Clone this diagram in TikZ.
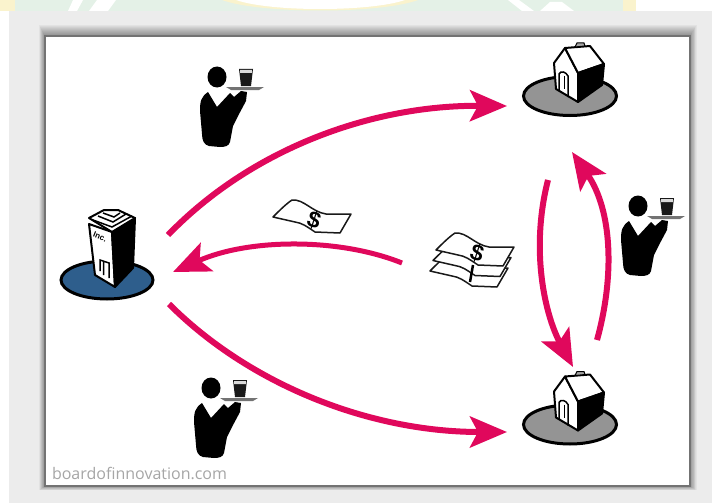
\documentclass[tikz,border=0pt]{standalone}
\usepackage{fontspec}
\newfontfamily\markfont{Open Sans}
\newfontfamily\signfont{Liberation Sans}
\usetikzlibrary{arrows.meta}
\definecolor{flowpink}{RGB}{224,8,92}
\definecolor{panelgray}{RGB}{236,236,236}
\definecolor{bannergreen}{RGB}{228,241,231}
\definecolor{bannergold}{RGB}{250,243,205}
\definecolor{firmblue}{RGB}{46,94,140}
\tikzset{
  hub/.style={inner sep=0pt, outer sep=0pt},
  flow/.style={draw=flowpink, line width=6pt, -{Stealth[length=37pt, width=31pt, inset=8pt]}},
  billshape/.style={draw=black!90, fill=white, line width=1.5pt, line join=round},
  waiter/.pic={
    \fill (0,1) ellipse [x radius=9.5, y radius=10.5];
    \fill (-9,16) -- (0,31) -- (13,17) -- (17,21) -- (24,15) -- (30,16) -- (29,25)
      -- (21,40) -- (16,50) -- (13,66) .. controls (12,70) and (8,71) .. (3,71)
      -- (-8,70) .. controls (-13,69) and (-15,64) .. (-15,58)
      -- (-17,35) .. controls (-17,25) and (-16,21) .. (-9,16) -- cycle;
    \fill[black!55] (9,11) -- (47,11) -- (42,14) -- (14,14) -- cycle;
    \fill[black!90] (22,-7) -- (36,-7) -- (34,10) -- (24,10) -- cycle;
    \fill[black!15] (23,-6) -- (35,-6) -- (34.8,-3) -- (23.2,-3) -- cycle;
  },
  house/.pic={
    \draw[line width=3pt, fill=black!42] (0,0) ellipse [x radius=46.5, y radius=19.5];
    \draw[line width=2pt, fill=white, line join=round] (-16,-33) -- (-5,-48) -- (8,-23) -- (8,6) -- (-14,-7) -- cycle;
    \draw[line width=2pt, fill=white, line join=round] (-5,-48) -- (20,-50) -- (34,-32) -- (8,-23) -- cycle;
    \draw[line width=2pt, fill=black, line join=round] (8,-23) -- (34,-32) -- (32,-11) -- (8,6) -- cycle;
    \draw[line width=1pt, fill=black!35] (5,-49) -- (7,-53) -- (14,-53) -- (15,-50) -- cycle;
    \draw[line width=1.5pt] (-11,-5) -- (-11,-22) .. controls (-9,-26) and (-4,-24) .. (-2,-20) -- (-2,1);
    \draw[line width=1pt] (-6,-20) -- (-6,-7);
  },
  building/.pic={
    \draw[line width=3pt, fill=firmblue] (0,0) ellipse [x radius=46, y radius=19];
    \draw[line width=2pt, fill=white, line join=round] (-18,-56) -- (5,-48) -- (8,7) -- (-12,-5) -- cycle;
    \draw[line width=2pt, fill=black, line join=round] (5,-48) -- (28,-62) -- (26,-12) -- (8,7) -- cycle;
    \draw[line width=2pt, fill=white, line join=round] (-18,-62) -- (-3,-70) -- (11,-70) -- (28,-62) -- (5,-48) -- cycle;
    \draw[line width=1.5pt] (-14,-60) -- (5,-53) -- (25,-64) (-9,-64) -- (6,-58) -- (19,-66) (-4,-67) -- (7,-63) -- (13,-67);
    \draw[line width=1.5pt] (-7,-9) -- (-7,-20) -- (2,-17) -- (2,-2) (-3.5,-18) -- (-3.5,-5);
    \node[hub, rotate=-22, font=\signfont\bfseries\fontsize{8}{9}\selectfont] (sign) at (-7,-43) {Inc.};
  },
  bill/.pic={
    \draw[billshape] (-41,-3) .. controls (-34,-10) and (-28,-16) .. (-22,-20)
      .. controls (-10,-21) and (-2,-8) .. (12,-6) -- (37,-6) -- (26,13) -- (1,12)
      .. controls (-8,6) and (-12,3) .. (-19,2) -- cycle;
  },
  dollar/.style={hub, rotate=-18, font=\signfont\bfseries\fontsize{23}{25}\selectfont},
}
\begin{document}
\begin{tikzpicture}[x=1pt, y=-1pt]
  \useasboundingbox (0,0) rectangle (712,503);

  % Banner
  \fill[white] (0,0) rectangle (712,503);
  \fill[bannergold] (0,0) rectangle (15,11);
  \fill[bannergreen] (15,0) rectangle (636,11);
  \fill[bannergold] (623,0) rectangle (636,11);
  \fill[white] (68,11) -- (73,0) -- (83,0) -- (77,11) -- cycle;
  \fill[white] (89,11) -- (97,0) -- (116,0) -- (108,11) -- cycle;
  \fill[bannergold] (222,0) .. controls (260,14) and (380,14) .. (418,0) -- cycle;
  \fill[white] (236,0) .. controls (270,12) and (370,12) .. (405,0) -- cycle;
  \fill[white] (508,0) -- (519,0) -- (534,11) -- (522,11) -- cycle;
  \fill[white] (540,11) -- (550,2) -- (562,2) -- (574,11) -- cycle;

  % Panel and frame
  \fill[panelgray] (9,11) rectangle (712,503);
  \foreach \d in {11,10,...,1}
    \fill[black, opacity=0.04] ({45-0.55*\d},{36-\d}) rectangle ({690+0.6*\d},{486+0.4*\d});
  \draw[draw=black!55, fill=white, line width=1.2pt] (45,36) rectangle (690,486);

  % Anchors
  \node[hub, minimum width=124pt, minimum height=90pt] (firm) at (107,270) {};
  \node[hub, minimum width=126pt, minimum height=112pt] (houseT) at (570,96) {};
  \node[hub, minimum width=126pt, minimum height=115pt] (houseB) at (570,424.5) {};
  \node[hub, minimum width=146pt, minimum height=50pt] (cash) at (475,263) {};

  % Icons
  \pic at (firm.center) [yshift=-10pt] {building};
  \pic at (houseT.center) {house};
  \pic at (houseB.center) {house};
  \pic (waiterA) at (217,76) {waiter};
  \pic (waiterB) at (211,387) {waiter};
  \pic (waiterC) at (638,205) {waiter};

  % Money
  \pic (note) at (314,220) {bill};
  \node[dollar] (noteSign) at (314,220) {\$};
  \pic (stackA) at (471,274) {bill};
  \pic (stackB) at (474,263.5) {bill};
  \pic (stackC) at (477,253) {bill};
  \node[dollar] (stackSign) at (477,253) {\$};
  \draw[line width=2.5pt] (473,265) -- (470,282);

  % Flows
  \draw[flow] ([xshift=-1pt, yshift=35pt]firm.east) .. controls (250,150) and (370,105) .. ([yshift=-10pt]houseT.west);
  \draw[flow] ([yshift=-34pt]firm.east) .. controls (250,385) and (370,432) .. ([yshift=-7.5pt]houseB.west);
  \draw[flow, line width=5pt] (cash.west) .. controls (340,238) and (250,238) .. ([xshift=4pt, yshift=-2pt]firm.east);
  \draw[flow] ([shift={(-22pt,-28pt)}]houseT.south) .. controls (530,250) and (545,315) .. ([xshift=3pt]houseB.north);
  \draw[flow] ([shift={(27pt,27pt)}]houseB.north) .. controls (615,275) and (612,210) .. ([xshift=2pt]houseT.south);

  % Credit
  \node[hub, anchor=base west, text=black!35, font=\markfont\fontsize{16}{18}\selectfont] (credit) at (52,479) {boardofinnovation.com};
\end{tikzpicture}
\end{document}
